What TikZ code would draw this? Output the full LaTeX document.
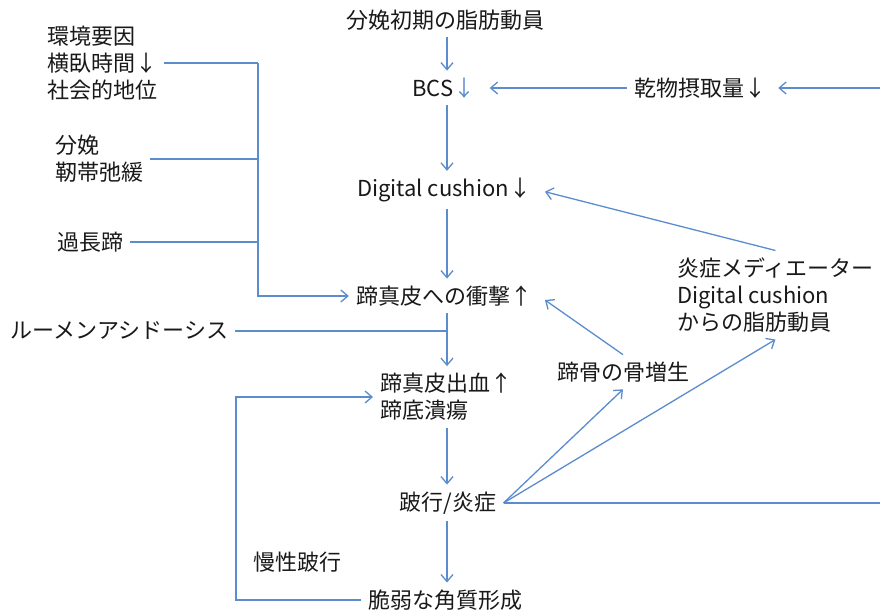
\documentclass[tikz,border=0pt]{standalone}
\usepackage{fontspec}
\setmainfont{Noto Sans CJK JP}
\usetikzlibrary{arrows.meta}
\definecolor{lb}{RGB}{91,140,206}
\definecolor{tx}{RGB}{25,25,25}
\begin{document}
\begin{tikzpicture}[x=1pt,y=-1pt,
  lbl/.style={font=\fontsize{22}{27}\selectfont, text=tx, inner xsep=7pt, inner ysep=7pt, align=left},
  con/.style={draw=lb, line width=1.3pt},
  arr/.style={con, -{Straight Barb[length=7pt,width=12pt]}}]
\useasboundingbox[fill=white] (0,0) rectangle (880,612);
% coordinates
\coordinate (col) at (447,0);
\coordinate (bx) at (258,0);
\coordinate (lx) at (236,0);
\coordinate (re1) at (880,88);
\coordinate (re2) at (880,503);
% nodes
\node[lbl] (n1) at (445,20) {分娩初期の脂肪動員};
\node[lbl] (bcs) at (444,88) {BCS{\color{lb}↓}};
\node[lbl] (dmi) at (700,88) {乾物摂取量↓};
\node[lbl] (dc) at (444,190) {Digital cushion↓};
\node[lbl] (shock) at (444,296) {蹄真皮への衝撃↑};
\node[lbl, anchor=west] (env) at (40,63) {環境要因\\横臥時間↓\\社会的地位};
\node[lbl, anchor=west] (lig) at (48,159) {分娩\\靭帯弛緩};
\node[lbl, anchor=west] (hoof) at (50,242) {過長蹄};
\node[lbl, anchor=west] (rumen) at (3,331) {ルーメンアシドーシス};
\node[lbl, anchor=west] (blood) at (373,397) {蹄真皮出血↑\\蹄底潰瘍};
\node[lbl] (bone) at (623,372) {蹄骨の骨増生};
\node[lbl, anchor=west] (med) at (670,295) {炎症メディエーター\\Digital cushion\\からの脂肪動員};
\node[lbl] (lame) at (448,503) {跛行/炎症};
\node[lbl] (frag) at (445,600) {脆弱な角質形成};
\node[lbl, anchor=west] (chron) at (246,562) {慢性跛行};
% connectors
\draw[arr] (n1.south -| col) -- (bcs.north -| col);
\draw[arr, shorten >=7pt] (dmi.west) -- (bcs.east);
\draw[arr, shorten >=5pt] (re1) -- (dmi.east);
\draw[arr] (bcs.south -| col) -- (dc.north -| col);
\draw[arr, shorten >=7pt] (med.north) -- (dc.east);
\draw[arr] (dc.south -| col) -- (shock.north -| col);
\draw[con] (env.east) -- (env.east -| bx);
\draw[con] (lig.east) -- (lig.east -| bx);
\draw[con] (hoof.east) -- (hoof.east -| bx);
\draw[arr] (env.east -| bx) |- (shock.west);
\draw[arr] (shock.south -| col) -- (blood.north -| col);
\draw[con] (rumen.east) -- (rumen.east -| col);
\draw[arr] (blood.south -| col) -- (lame.north -| col);
\draw[arr] (lame.south -| col) -- (frag.north -| col);
\draw[arr] (lame.east) -- (bone.south);
\draw[arr] (lame.east) -- (med.south);
\draw[con] (lame.east) -- (lame.east -| re2);
\draw[arr, shorten >=7pt] (bone.north) -- (shock.east);
\draw[arr] (frag.west) -- (frag.west -| lx) |- (blood.west);
\end{tikzpicture}
\end{document}
